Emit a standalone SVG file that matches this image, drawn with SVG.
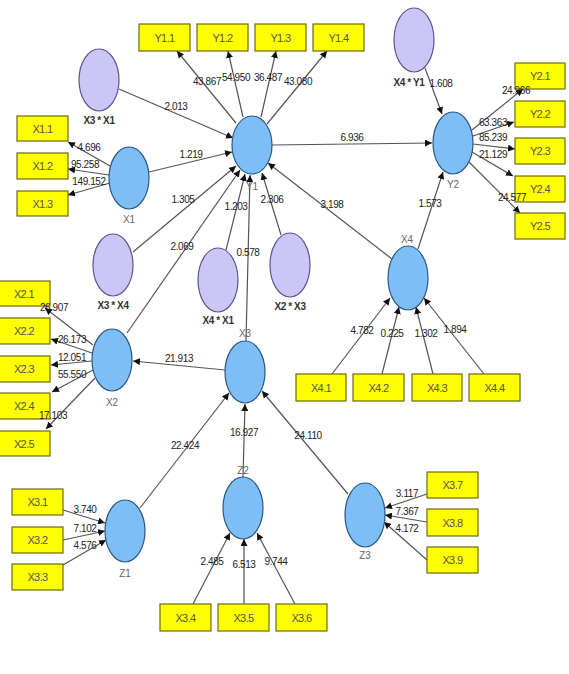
<svg xmlns="http://www.w3.org/2000/svg" width="569" height="674" viewBox="0 0 569 674">
<defs>
<marker id="ah" viewBox="0 0 10 10" refX="10" refY="5" markerWidth="7" markerHeight="7" markerUnits="userSpaceOnUse" orient="auto">
<path d="M0,0 L10,5 L0,10 z" fill="#111"/>
</marker>
<style>
.e{stroke:#555;stroke-width:1.2;fill:none;marker-end:url(#ah)}
.box{fill:#ffff00;stroke:#6b6b10;stroke-width:1.2}
.bt{font-family:"Liberation Sans",Arial,sans-serif;font-size:11px;fill:#555;text-anchor:middle;letter-spacing:-0.6px}
.lv{fill:#7dbef7;stroke:#2c5680;stroke-width:1.2}
.mod{fill:#cbc6f6;stroke:#5e5490;stroke-width:1.2}
.lab{font-family:"Liberation Sans",Arial,sans-serif;font-size:10px;fill:#222;text-anchor:middle;letter-spacing:-0.4px}
.nl{font-family:"Liberation Sans",Arial,sans-serif;font-size:10px;fill:#666;text-anchor:middle}
.ml{font-family:"Liberation Sans",Arial,sans-serif;font-size:10px;font-weight:bold;fill:#333;text-anchor:middle;letter-spacing:-0.4px}
</style>
</defs>
<rect width="569" height="674" fill="#fff"/>

<g id="connectors">
<line class="e" x1="236" y1="123" x2="177" y2="51"/>
<line class="e" x1="243" y1="117" x2="228" y2="51"/>
<line class="e" x1="261" y1="117" x2="276" y2="51"/>
<line class="e" x1="267" y1="124" x2="327" y2="51"/>
<line class="e" x1="119" y1="89" x2="233" y2="138"/>
<line class="e" x1="149" y1="172" x2="232" y2="152"/>
<line class="e" x1="133" y1="252" x2="236" y2="166"/>
<line class="e" x1="127" y1="333" x2="240" y2="170"/>
<line class="e" x1="226" y1="250" x2="245" y2="174"/>
<line class="e" x1="246" y1="341" x2="250" y2="175"/>
<line class="e" x1="281" y1="235" x2="262" y2="173"/>
<line class="e" x1="392" y1="259" x2="268" y2="163"/>
<line class="e" x1="110" y1="166" x2="68" y2="142"/>
<line class="e" x1="109" y1="175" x2="68" y2="169"/>
<line class="e" x1="110" y1="183" x2="68" y2="195"/>
<line class="e" x1="272" y1="145" x2="432" y2="143"/>
<line class="e" x1="425" y1="68" x2="442" y2="114"/>
<line class="e" x1="418" y1="249" x2="443" y2="172"/>
<line class="e" x1="472" y1="130" x2="523" y2="89"/>
<line class="e" x1="473" y1="136" x2="514" y2="122"/>
<line class="e" x1="473" y1="144" x2="515" y2="149"/>
<line class="e" x1="472" y1="152" x2="513" y2="176"/>
<line class="e" x1="469" y1="162" x2="520" y2="213"/>
<line class="e" x1="332" y1="374" x2="390" y2="298"/>
<line class="e" x1="382" y1="374" x2="399" y2="307"/>
<line class="e" x1="433" y1="374" x2="416" y2="307"/>
<line class="e" x1="484" y1="374" x2="424" y2="298"/>
<line class="e" x1="225" y1="370" x2="133" y2="361"/>
<line class="e" x1="93" y1="345" x2="45" y2="308"/>
<line class="e" x1="92" y1="353" x2="51" y2="339"/>
<line class="e" x1="92" y1="361" x2="51" y2="365"/>
<line class="e" x1="93" y1="370" x2="52" y2="392"/>
<line class="e" x1="95" y1="378" x2="46" y2="429"/>
<line class="e" x1="140" y1="508" x2="229" y2="393"/>
<line class="e" x1="243" y1="477" x2="245" y2="404"/>
<line class="e" x1="348" y1="494" x2="262" y2="391"/>
<line class="e" x1="63" y1="510" x2="105" y2="523"/>
<line class="e" x1="63" y1="540" x2="105" y2="531"/>
<line class="e" x1="63" y1="565" x2="106" y2="540"/>
<line class="e" x1="193" y1="604" x2="230" y2="533"/>
<line class="e" x1="244" y1="604" x2="244" y2="539"/>
<line class="e" x1="295" y1="604" x2="257" y2="533"/>
<line class="e" x1="427" y1="494" x2="385" y2="508"/>
<line class="e" x1="427" y1="522" x2="385" y2="515"/>
<line class="e" x1="427" y1="560" x2="384" y2="522"/>
</g>

<g id="Y1"><ellipse class="lv" cx="252" cy="145" rx="20" ry="29"/><text class="nl" x="252" y="190">Y1</text></g>
<g id="Y2"><ellipse class="lv" cx="453" cy="143" rx="20" ry="31"/><text class="nl" x="453" y="188">Y2</text></g>
<g id="X1"><ellipse class="lv" cx="129" cy="178" rx="20" ry="31"/><text class="nl" x="129" y="223">X1</text></g>
<g id="X2"><ellipse class="lv" cx="112" cy="360" rx="20" ry="31"/><text class="nl" x="112" y="406">X2</text></g>
<g id="X3"><ellipse class="lv" cx="245" cy="372" rx="20" ry="31"/><text class="nl" x="245" y="337">X3</text></g>
<g id="X4"><ellipse class="lv" cx="408" cy="278" rx="20" ry="32"/><text class="nl" x="407" y="243">X4</text></g>
<g id="Z1"><ellipse class="lv" cx="125" cy="531" rx="20" ry="31"/><text class="nl" x="125" y="577">Z1</text></g>
<g id="Z2"><ellipse class="lv" cx="243" cy="508" rx="20" ry="31"/><text class="nl" x="243" y="474">Z2</text></g>
<g id="Z3"><ellipse class="lv" cx="365" cy="515" rx="20" ry="32"/><text class="nl" x="365" y="559">Z3</text></g>

<g id="X3xX1"><ellipse class="mod" cx="99" cy="80" rx="20" ry="31"/><text class="ml" x="99" y="124">X3 * X1</text></g>
<g id="X4xY1"><ellipse class="mod" cx="414" cy="40" rx="20" ry="32"/><text class="ml" x="409" y="86">X4 * Y1</text></g>
<g id="X3xX4"><ellipse class="mod" cx="113" cy="265" rx="20" ry="31"/><text class="ml" x="113" y="309">X3 * X4</text></g>
<g id="X4xX1"><ellipse class="mod" cx="218" cy="280" rx="20" ry="32"/><text class="ml" x="218" y="324">X4 * X1</text></g>
<g id="X2xX3"><ellipse class="mod" cx="290" cy="265" rx="20" ry="32"/><text class="ml" x="290" y="310">X2 * X3</text></g>

<g id="Y1.1"><rect class="box" x="139" y="24" width="51" height="27"/><text class="bt" x="164.5" y="41.5">Y1.1</text></g>
<g id="Y1.2"><rect class="box" x="197" y="24" width="51" height="27"/><text class="bt" x="222.5" y="41.5">Y1.2</text></g>
<g id="Y1.3"><rect class="box" x="255" y="24" width="51" height="27"/><text class="bt" x="280.5" y="41.5">Y1.3</text></g>
<g id="Y1.4"><rect class="box" x="313" y="24" width="51" height="27"/><text class="bt" x="338.5" y="41.5">Y1.4</text></g>

<g id="X1.1"><rect class="box" x="17" y="116" width="51" height="25"/><text class="bt" x="42.5" y="132.5">X1.1</text></g>
<g id="X1.2"><rect class="box" x="17" y="153" width="51" height="26"/><text class="bt" x="42.5" y="170">X1.2</text></g>
<g id="X1.3"><rect class="box" x="17" y="191" width="51" height="25"/><text class="bt" x="42.5" y="207.5">X1.3</text></g>

<g id="Y2.1"><rect class="box" x="515" y="63" width="50" height="26"/><text class="bt" x="540" y="80">Y2.1</text></g>
<g id="Y2.2"><rect class="box" x="515" y="101" width="50" height="26"/><text class="bt" x="540" y="118">Y2.2</text></g>
<g id="Y2.3"><rect class="box" x="515" y="138" width="50" height="26"/><text class="bt" x="540" y="155">Y2.3</text></g>
<g id="Y2.4"><rect class="box" x="515" y="176" width="50" height="26"/><text class="bt" x="540" y="193">Y2.4</text></g>
<g id="Y2.5"><rect class="box" x="515" y="213" width="50" height="26"/><text class="bt" x="540" y="230">Y2.5</text></g>

<g id="X2.1"><rect class="box" x="-1" y="281" width="51" height="25"/><text class="bt" x="24" y="297.5">X2.1</text></g>
<g id="X2.2"><rect class="box" x="-1" y="318" width="51" height="26"/><text class="bt" x="24" y="335">X2.2</text></g>
<g id="X2.3"><rect class="box" x="-1" y="356" width="51" height="26"/><text class="bt" x="24" y="373">X2.3</text></g>
<g id="X2.4"><rect class="box" x="-1" y="393" width="51" height="26"/><text class="bt" x="24" y="410">X2.4</text></g>
<g id="X2.5"><rect class="box" x="-1" y="431" width="51" height="25"/><text class="bt" x="24" y="447.5">X2.5</text></g>

<g id="X4.1"><rect class="box" x="296" y="374" width="50" height="27"/><text class="bt" x="321" y="391.5">X4.1</text></g>
<g id="X4.2"><rect class="box" x="353" y="374" width="51" height="27"/><text class="bt" x="378.5" y="391.5">X4.2</text></g>
<g id="X4.3"><rect class="box" x="412" y="374" width="50" height="27"/><text class="bt" x="437" y="391.5">X4.3</text></g>
<g id="X4.4"><rect class="box" x="469" y="374" width="51" height="27"/><text class="bt" x="494.5" y="391.5">X4.4</text></g>

<g id="X3.1"><rect class="box" x="12" y="489" width="51" height="26"/><text class="bt" x="37.5" y="506">X3.1</text></g>
<g id="X3.2"><rect class="box" x="12" y="527" width="51" height="26"/><text class="bt" x="37.5" y="544">X3.2</text></g>
<g id="X3.3"><rect class="box" x="12" y="564" width="51" height="26"/><text class="bt" x="37.5" y="581">X3.3</text></g>

<g id="X3.4"><rect class="box" x="160" y="604" width="51" height="27"/><text class="bt" x="185.5" y="621.5">X3.4</text></g>
<g id="X3.5"><rect class="box" x="218" y="604" width="51" height="27"/><text class="bt" x="243.5" y="621.5">X3.5</text></g>
<g id="X3.6"><rect class="box" x="276" y="604" width="51" height="27"/><text class="bt" x="301.5" y="621.5">X3.6</text></g>

<g id="X3.7"><rect class="box" x="427" y="472" width="51" height="26"/><text class="bt" x="452.5" y="489">X3.7</text></g>
<g id="X3.8"><rect class="box" x="427" y="509" width="51" height="27"/><text class="bt" x="452.5" y="526.5">X3.8</text></g>
<g id="X3.9"><rect class="box" x="427" y="547" width="51" height="26"/><text class="bt" x="452.5" y="564">X3.9</text></g>

<g id="edge-labels">
<text class="lab" x="207" y="85">43.867</text>
<text class="lab" x="236" y="81">54.950</text>
<text class="lab" x="268" y="81">36.487</text>
<text class="lab" x="298" y="85">43.080</text>
<text class="lab" x="176" y="110">2.013</text>
<text class="lab" x="191" y="158">1.219</text>
<text class="lab" x="183" y="203">1.305</text>
<text class="lab" x="236" y="210">1.203</text>
<text class="lab" x="272" y="203">2.306</text>
<text class="lab" x="182" y="250">2.069</text>
<text class="lab" x="248" y="256">0.578</text>
<text class="lab" x="332" y="208">3.198</text>
<text class="lab" x="89" y="151">4.696</text>
<text class="lab" x="85" y="168">95.258</text>
<text class="lab" x="89" y="185">149.152</text>
<text class="lab" x="352" y="141">6.936</text>
<text class="lab" x="441" y="87">1.608</text>
<text class="lab" x="430" y="207">1.573</text>
<text class="lab" x="516" y="94">24.966</text>
<text class="lab" x="493" y="126">63.363</text>
<text class="lab" x="493" y="141">85.239</text>
<text class="lab" x="493" y="158">21.129</text>
<text class="lab" x="512" y="201">24.577</text>
<text class="lab" x="362" y="334">4.782</text>
<text class="lab" x="392" y="337">0.225</text>
<text class="lab" x="426" y="337">1.302</text>
<text class="lab" x="455" y="333">1.894</text>
<text class="lab" x="179" y="362">21.913</text>
<text class="lab" x="54" y="311">26.907</text>
<text class="lab" x="72" y="343">26.173</text>
<text class="lab" x="72" y="361">12.051</text>
<text class="lab" x="72" y="378">55.550</text>
<text class="lab" x="53" y="419">17.103</text>
<text class="lab" x="185" y="449">22.424</text>
<text class="lab" x="244" y="436">16.927</text>
<text class="lab" x="308" y="439">24.110</text>
<text class="lab" x="85" y="513">3.740</text>
<text class="lab" x="85" y="532">7.102</text>
<text class="lab" x="85" y="549">4.576</text>
<text class="lab" x="212" y="565">2.485</text>
<text class="lab" x="244" y="568">6.513</text>
<text class="lab" x="276" y="565">9.744</text>
<text class="lab" x="407" y="497">3.117</text>
<text class="lab" x="407" y="515">7.367</text>
<text class="lab" x="407" y="532">4.172</text>
</g>
</svg>
